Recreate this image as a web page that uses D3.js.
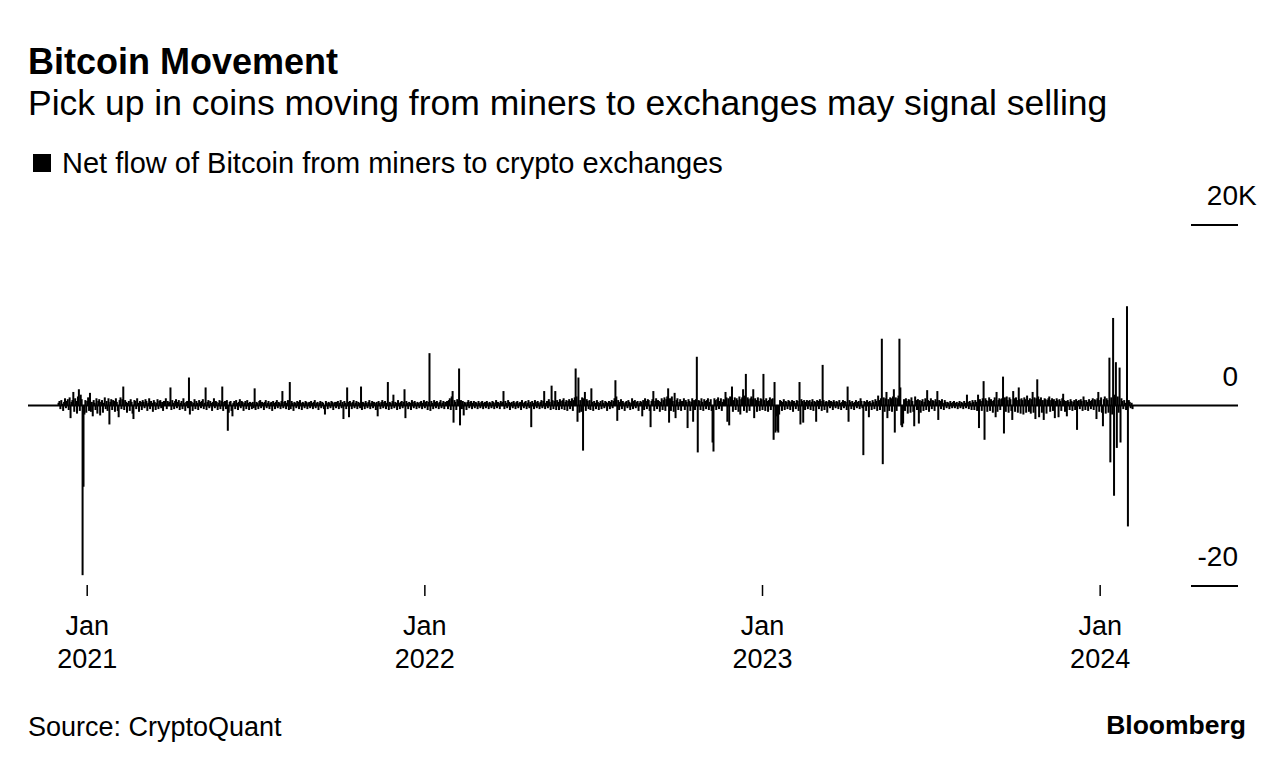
<!DOCTYPE html>
<html>
<head>
<meta charset="utf-8">
<script src="https://cdn.jsdelivr.net/npm/d3@7"></script>
<style>
  body { margin: 0; background: #fff; }
  svg text { font-family: "Liberation Sans", Arial, Helvetica, sans-serif; fill: #000; }
</style>
</head>
<body>
<div id="chart"></div>
<script>
// daily net flow, miners -> exchanges, in hundreds of BTC, starting 2020-12-01
const startDay = "2020-12-01";
const flow = [
  3,5,-4,6,2,-6,4,8,-3,5,7,-5,9,-14,4,6,15,-7,8,5,-9,10,18,-6,12,7,-188,-90,-10,6,
  -8,5,9,-6,14,-7,4,-12,6,3,-5,8,-9,5,7,-11,4,6,-8,3,9,-4,5,-6,8,-21,4,7,-5,6,
  5,-7,8,4,-6,-13,6,9,-4,7,21,-5,6,4,-8,3,5,-6,7,4,-9,-15,6,5,-4,8,3,-7,5,4,
  -5,6,4,-3,7,5,-6,3,8,-4,5,3,-7,6,4,-5,3,7,-4,5,6,-3,4,-6,5,3,8,-4,5,3,
  4,20,-5,6,3,-4,5,7,-3,4,6,-5,3,5,-4,8,3,-6,4,5,-3,31,-10,5,4,-6,3,7,-4,5,
  3,-5,6,4,-3,5,7,-4,3,20,-5,4,6,-3,5,3,-6,4,8,-3,5,4,-5,3,6,-4,5,21,-6,4,
  5,-4,6,-28,-8,4,5,-6,-12,3,5,-4,6,3,-5,4,7,-3,5,4,-6,3,5,-4,6,3,-5,4,3,-4,
  4,-3,19,-5,4,3,-4,5,6,-3,4,3,-5,4,6,-3,3,5,-4,3,4,-6,5,3,-4,4,6,-3,4,3,
  -4,5,16,-3,4,5,-4,3,6,-5,26,-4,5,3,-6,4,3,-3,5,4,-4,6,3,-5,4,3,-3,5,4,-4,
  3,4,-3,5,3,-4,4,6,-3,3,4,-5,3,5,-3,4,3,-4,-10,5,3,-4,4,3,-3,5,4,-5,3,4,
  -3,4,5,-4,3,6,-3,4,-15,5,3,-4,20,4,-13,5,3,-4,4,6,-3,3,5,-4,4,3,-3,21,-5,4,
  3,-4,5,3,-3,4,6,-4,3,5,-3,4,3,-5,4,-12,5,3,-4,4,6,-3,4,5,-4,3,26,-5,4,3,
  -4,5,12,-3,4,3,-5,6,3,-4,4,5,-3,4,18,-14,5,3,-4,4,3,-5,6,4,-3,5,3,-4,4,3,
  -3,4,5,-4,3,6,-3,4,5,-5,4,58,-6,5,3,-4,6,4,-3,5,3,-4,4,6,-3,3,5,-4,4,3,
  5,-4,6,8,-5,10,16,-19,6,4,-5,7,5,41,-22,6,-4,5,-11,4,3,-5,4,6,-3,4,5,-4,3,5,
  -3,4,3,-4,5,3,-3,4,5,-4,3,4,-3,5,3,-4,4,3,-3,5,4,-4,3,6,-3,4,3,-4,5,3,
  4,16,-4,5,3,-3,6,4,-5,3,4,-3,5,3,-4,4,5,-3,3,4,-5,6,3,-3,4,5,-4,3,6,-3,
  4,-24,5,3,-4,6,4,-3,5,3,-4,4,6,-3,5,16,-4,3,5,-3,7,4,-5,22,6,-4,5,16,-5,6,
  4,-5,7,5,-4,6,8,-5,4,6,-6,5,7,-4,5,8,-6,6,9,41,10,-18,31,-8,6,-7,9,-50,8,15,
  -6,7,5,-4,6,-5,19,4,-6,5,3,-4,6,4,-5,3,5,-4,6,3,-3,5,4,-6,3,5,-4,4,6,-3,
  5,8,28,10,-17,6,-5,4,7,-4,5,3,-6,4,5,-3,6,4,-5,3,8,-4,5,6,-3,4,5,-6,3,5,
  4,-12,6,-5,8,5,-4,7,6,-6,-24,5,7,16,-6,5,8,-4,6,5,-7,4,8,-5,6,9,-6,7,10,19,
  -19,8,-6,10,5,-7,14,-14,6,8,-5,4,7,-6,5,3,8,-5,6,4,-25,7,5,-6,4,8,-18,6,-5,7,
  54,-52,6,5,-5,8,4,-6,7,5,-4,6,8,-5,4,7,-6,-41,-51,8,6,-5,7,9,-4,5,8,-6,4,7,
  6,15,9,-18,8,-22,10,7,21,-7,6,9,-5,8,6,-7,10,-10,7,9,18,-6,11,35,-8,9,7,-6,8,10,
  7,18,-14,8,6,-7,9,5,-6,8,7,-5,35,6,-6,8,5,-7,6,9,-5,7,8,-38,26,-30,-12,-28,-30,-10,
  6,5,-6,4,7,-5,5,4,-4,6,5,-5,4,6,-7,5,3,-4,6,5,-6,26,-21,7,5,-19,6,-5,4,6,
  -4,5,6,-5,4,7,-6,5,4,-18,6,5,-4,7,5,-6,45,6,-5,4,5,-8,4,6,-3,5,4,-5,6,4,
  -3,5,4,-4,6,3,-5,4,6,-3,5,4,-5,21,-18,6,4,-4,5,3,-5,4,6,-3,4,5,-4,8,5,-3,
  -55,5,4,-6,6,4,-13,5,3,-5,6,4,-4,7,5,-6,11,6,-5,8,74,-65,9,-7,8,15,-14,7,-6,9,
  8,-7,10,18,-30,9,-6,8,11,74,20,-22,-24,-20,7,-6,8,5,-9,7,6,-8,9,5,-7,-23,10,6,-5,7,
  -20,6,-8,5,7,-6,4,8,-5,17,6,-7,5,8,-4,6,5,-6,7,4,16,-16,6,5,-4,7,3,-5,6,4,
  -3,4,3,-4,5,3,-3,4,5,-3,3,4,-4,3,5,-3,4,3,-4,5,3,-3,12,4,-4,5,3,-5,6,4,
  -5,6,4,-6,12,-25,7,5,-6,8,27,-38,8,6,-7,5,9,-6,7,5,-8,6,9,-13,15,-7,6,8,-5,7,
  8,32,-31,9,-7,10,6,-8,9,7,-6,-16,16,8,-7,9,6,-8,20,7,-9,8,6,-10,9,7,-8,11,6,-7,
  8,-9,7,15,-8,9,-15,8,29,10,-13,7,9,-8,6,-16,8,7,-9,6,8,10,-7,6,8,-6,7,-14,5,8,
  6,-13,7,5,-6,8,13,6,-7,5,-12,6,4,-5,7,5,-6,4,6,-5,7,-27,5,6,-4,7,5,-6,10,6,
  -5,6,4,-6,7,5,-4,6,8,-5,7,6,-15,8,15,-7,6,9,-8,-23,7,10,-9,8,6,-8,53,-63,9,-10,
  97,-100,12,48,-47,10,-8,42,-41,8,5,-4,6,3,-5,110,-134,6,4,-3,3,-4
];

const yTicks = [20000, 0, -20000];
const yTickLabels = ["20", "0", "-20"];
const yTickSuffix = ["K", "", ""];
const xTicks = ["2021-01-01", "2022-01-01", "2023-01-01", "2024-01-01"];
const xTickMonth = "Jan";

const width = 1285, height = 768;
const parse = d3.utcParse("%Y-%m-%d");
const t0 = parse(startDay);

const data = flow.map((v, i) => ({ date: d3.utcDay.offset(t0, i), value: v * 100 }));

const x = d3.scaleUtc()
    .domain([parse("2020-10-29"), parse("2024-05-29")])
    .range([28, 1238]);
const y = d3.scaleLinear()
    .domain([-20000, 20000])
    .range([586, 225]);

const svg = d3.select("#chart").append("svg")
    .attr("width", width)
    .attr("height", height);

// titles
svg.append("text").attr("x", 28).attr("y", 74)
    .style("font-size", "36px").style("font-weight", "bold")
    .text("Bitcoin Movement");
svg.append("text").attr("x", 28).attr("y", 115)
    .style("font-size", "35.5px")
    .text("Pick up in coins moving from miners to exchanges may signal selling");

// legend
svg.append("rect").attr("x", 33).attr("y", 154).attr("width", 18).attr("height", 18).attr("fill", "#000");
svg.append("text").attr("x", 62).attr("y", 173)
    .style("font-size", "29px")
    .text("Net flow of Bitcoin from miners to crypto exchanges");

// y axis labels on the right
const yg = svg.append("g");
yg.selectAll("line").data(yTicks.filter(d => d !== 0)).join("line")
    .attr("x1", 1191).attr("x2", 1238)
    .attr("y1", d => y(d)).attr("y2", d => y(d))
    .attr("stroke", "#000").attr("stroke-width", 2);
yg.selectAll("text.num").data(yTicks).join("text").attr("class", "num")
    .attr("x", 1238).attr("y", d => y(d) - 20)
    .attr("text-anchor", "end")
    .style("font-size", "28px")
    .text((d, i) => yTickLabels[i]);
yg.selectAll("text.suf").data(yTicks).join("text").attr("class", "suf")
    .attr("x", 1238).attr("y", d => y(d) - 20)
    .style("font-size", "28px")
    .text((d, i) => yTickSuffix[i]);

// zero line
svg.append("line")
    .attr("x1", 28).attr("x2", 1238)
    .attr("y1", y(0)).attr("y2", y(0))
    .attr("stroke", "#000").attr("stroke-width", 2);

// bars
svg.append("g").selectAll("rect").data(data).join("rect")
    .attr("x", d => x(d.date) - 1)
    .attr("width", 2)
    .attr("y", d => y(Math.max(0, d.value)))
    .attr("height", d => Math.abs(y(d.value) - y(0)))
    .attr("fill", "#000");

// x ticks
const xg = svg.append("g");
xg.selectAll("line").data(xTicks).join("line")
    .attr("x1", d => x(parse(d))).attr("x2", d => x(parse(d)))
    .attr("y1", 585).attr("y2", 596)
    .attr("stroke", "#000").attr("stroke-width", 1.5);
xg.selectAll("text.m").data(xTicks).join("text").attr("class", "m")
    .attr("x", d => x(parse(d))).attr("y", 635)
    .attr("text-anchor", "middle")
    .style("font-size", "27px")
    .text(xTickMonth);
xg.selectAll("text.yr").data(xTicks).join("text").attr("class", "yr")
    .attr("x", d => x(parse(d))).attr("y", 668)
    .attr("text-anchor", "middle")
    .style("font-size", "27px")
    .text(d => d.slice(0, 4));

// footer
svg.append("text").attr("x", 28).attr("y", 736)
    .style("font-size", "27px")
    .text("Source: CryptoQuant");
svg.append("text").attr("x", 1246).attr("y", 734)
    .attr("text-anchor", "end")
    .style("font-size", "26.5px").style("font-weight", "bold")
    .text("Bloomberg");
</script>
</body>
</html>
